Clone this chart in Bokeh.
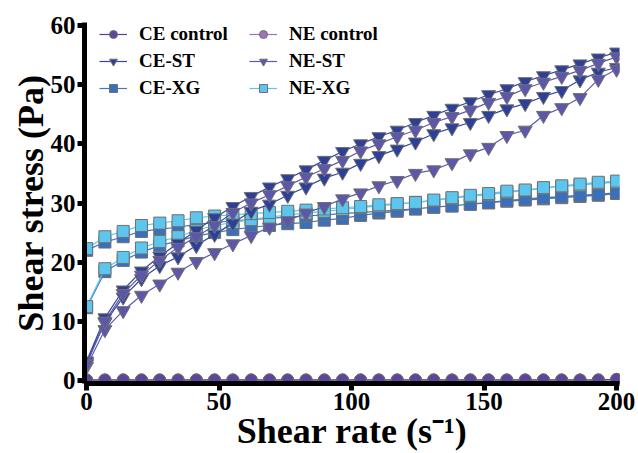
from bokeh.plotting import figure
from bokeh.models import Range1d, Legend, LegendItem
from bokeh.embed import file_html
from bokeh.resources import INLINE

shear_rate = [0, 6.9, 13.8, 20.7, 27.6, 34.5, 41.4, 48.3, 55.2, 62.1, 69.0, 75.9, 82.8,
              89.7, 96.6, 103.4, 110.3, 117.2, 124.1, 131.0, 137.9, 144.8, 151.7, 158.6,
              165.5, 172.4, 179.3, 186.2, 193.1, 200.0]

ce_control_up = [0.1, 0.1, 0.1, 0.1, 0.1, 0.1, 0.1, 0.1, 0.1, 0.1, 0.1, 0.1, 0.1, 0.1, 0.1,
                 0.1, 0.1, 0.1, 0.1, 0.1, 0.1, 0.1, 0.1, 0.1, 0.1, 0.1, 0.1, 0.1, 0.1, 0.2]
ce_control_down = [0.1, 0.1, 0.1, 0.1, 0.1, 0.1, 0.1, 0.1, 0.1, 0.1, 0.1, 0.1, 0.1, 0.1, 0.1,
                   0.1, 0.1, 0.1, 0.1, 0.1, 0.1, 0.1, 0.1, 0.1, 0.1, 0.1, 0.1, 0.1, 0.1, 0.2]
ne_control_up = [0.05, 0.05, 0.05, 0.05, 0.05, 0.05, 0.05, 0.05, 0.05, 0.05, 0.05, 0.05, 0.05,
                 0.05, 0.05, 0.05, 0.05, 0.05, 0.05, 0.05, 0.05, 0.05, 0.05, 0.05, 0.05, 0.05,
                 0.05, 0.05, 0.05, 0.1]
ne_control_down = [0.05, 0.05, 0.05, 0.05, 0.05, 0.05, 0.05, 0.05, 0.05, 0.05, 0.05, 0.05, 0.05,
                   0.05, 0.05, 0.05, 0.05, 0.05, 0.05, 0.05, 0.05, 0.05, 0.05, 0.05, 0.05, 0.05,
                   0.05, 0.05, 0.05, 0.1]

ce_st_up = [3.0, 9.8, 14.1, 17.2, 19.4, 20.9, 22.8, 24.7, 26.6, 28.6, 29.8, 31.3, 32.7, 34.2,
            35.2, 36.7, 38.0, 39.1, 40.3, 41.7, 42.7, 43.6, 44.8, 45.9, 46.8, 48.0, 49.0, 50.8,
            52.1, 52.9]
ce_st_down = [3.3, 10.6, 15.3, 18.5, 21.0, 23.2, 25.4, 27.5, 29.4, 31.1, 32.7, 34.1, 35.6, 37.2,
              38.7, 40.0, 41.2, 42.3, 43.6, 44.8, 46.0, 47.1, 48.3, 49.3, 50.5, 51.5, 52.5, 53.5,
              54.5, 55.5]
ne_st_up = [2.4, 8.6, 11.8, 14.4, 16.3, 18.3, 20.1, 21.6, 23.1, 24.5, 25.9, 27.0, 28.3, 29.4,
            30.7, 31.7, 32.9, 33.8, 35.0, 35.6, 36.8, 38.3, 39.4, 41.4, 42.3, 44.8, 46.1, 47.8,
            50.9, 52.6]
ne_st_down = [2.8, 10.0, 14.7, 17.8, 20.3, 22.5, 24.3, 26.2, 28.4, 30.0, 31.4, 32.9, 34.4, 35.8,
              37.2, 38.8, 40.0, 41.2, 42.3, 43.6, 44.6, 45.7, 47.0, 48.0, 49.3, 50.4, 51.4, 52.4,
              53.6, 54.7]

ce_xg_up = [12.3, 18.4, 20.3, 21.7, 22.8, 23.6, 24.4, 25.0, 25.5, 25.9, 26.2, 26.5, 26.7, 27.1,
            27.4, 27.9, 28.3, 28.6, 29.0, 29.3, 29.5, 29.8, 30.0, 30.3, 30.5, 30.7, 30.9, 31.1,
            31.3, 31.6]
ce_xg_down = [22.0, 23.4, 24.3, 25.2, 25.6, 25.9, 26.4, 26.7, 27.0, 27.2, 27.4, 27.6, 27.8, 28.0,
              28.2, 28.4, 28.6, 28.8, 29.0, 29.3, 29.5, 29.8, 30.1, 30.4, 30.7, 30.9, 31.1, 31.3,
              31.5, 31.7]
ne_xg_up = [12.5, 18.9, 20.8, 22.4, 23.5, 24.3, 25.4, 26.2, 26.7, 27.2, 27.6, 28.0, 28.3, 28.6,
            28.9, 29.2, 29.5, 29.8, 30.1, 30.4, 30.8, 31.1, 31.4, 31.8, 32.1, 32.5, 32.8, 33.0,
            33.3, 33.5]
ne_xg_down = [22.3, 24.3, 25.2, 26.2, 26.6, 27.0, 27.5, 27.8, 28.0, 28.2, 28.4, 28.6, 28.8, 29.0,
              29.2, 29.4, 29.7, 29.9, 30.1, 30.5, 30.9, 31.3, 31.6, 32.0, 32.2, 32.6, 32.9, 33.2,
              33.5, 33.7]

x_ticks = [0, 50, 100, 150, 200]
y_ticks = [0, 10, 20, 30, 40, 50, 60]

FONT = "Liberation Serif"

p = figure(width=635, height=468, x_range=Range1d(-0.8, 201.1), y_range=Range1d(-0.5, 60.5),
           output_backend="svg", toolbar_location=None,
           min_border_left=84, min_border_right=16, min_border_top=22, min_border_bottom=85)
p.grid.visible = False
p.outline_line_color = None
p.background_fill_color = "white"

series = [
    ("CE-XG", ce_xg_up, ce_xg_down, "square", "#3a6fbd", "#3f78c6", 12),
    ("NE-XG", ne_xg_up, ne_xg_down, "square", "#5cc6ef", "#5cc6ef", 12),
    ("CE-ST", ce_st_up, ce_st_down, "inverted_triangle", "#2d3f97", "#3547a3", 14),
    ("NE-ST", ne_st_up, ne_st_down, "inverted_triangle", "#5d57a9", "#5d5aae", 14),
    ("NE control", ne_control_up, ne_control_down, "circle", "#9d72b8", "#9d72b8", 12),
    ("CE control", ce_control_up, ce_control_down, "circle", "#5f449c", "#5a3f96", 12),
]

renderers = {}
for name, up, down, marker, fill, lcol, size in series:
    xs = shear_rate + shear_rate[::-1]
    ys = up + down[::-1]
    lr = p.line(xs, ys, line_color=lcol, line_width=1.2)
    sr = p.scatter(xs, ys, marker=marker, size=size, fill_color=fill,
                   line_color="#707070", line_width=1)
    renderers[name] = [lr, sr]

def make_legend(names, loc):
    lg = Legend(items=[LegendItem(label=n, renderers=renderers[n]) for n in names],
                location=loc, orientation="vertical")
    lg.label_text_font = FONT
    lg.label_text_font_style = "bold"
    lg.label_text_font_size = "19px"
    lg.label_text_color = "black"
    lg.glyph_width = 28
    lg.glyph_height = 20
    lg.spacing = 5
    lg.padding = 0
    lg.margin = 0
    lg.label_standoff = 12
    lg.border_line_color = None
    lg.background_fill_alpha = 0
    return lg

p.add_layout(make_legend(["CE control", "CE-ST", "CE-XG"], (15, 284)))
p.add_layout(make_legend(["NE control", "NE-ST", "NE-XG"], (165, 284)))

for ax in (p.xaxis[0], p.yaxis[0]):
    ax.axis_line_width = 5
    ax.axis_line_color = "black"
    ax.major_tick_line_width = 5
    ax.major_tick_line_color = "black"
    ax.major_tick_out = 7
    ax.major_tick_in = 0
    ax.minor_tick_out = 0
    ax.minor_tick_in = 0
    ax.major_label_text_font = FONT
    ax.major_label_text_font_style = "bold"
    ax.major_label_text_font_size = "25px"
    ax.major_label_text_color = "black"
    ax.major_label_standoff = 2
    ax.axis_label_text_font = FONT
    ax.axis_label_text_font_style = "bold"
    ax.axis_label_text_font_size = "36px"
    ax.axis_label_text_color = "black"

p.xaxis.axis_label_standoff = -2
p.yaxis.axis_label_standoff = -3
p.xaxis.ticker = x_ticks
p.yaxis.ticker = y_ticks
p.xaxis.axis_label = "Shear rate (s\u207b\u00b9)"
p.yaxis.axis_label = "Shear stress (Pa)"

open("out.html", "w").write(file_html(p, INLINE))
